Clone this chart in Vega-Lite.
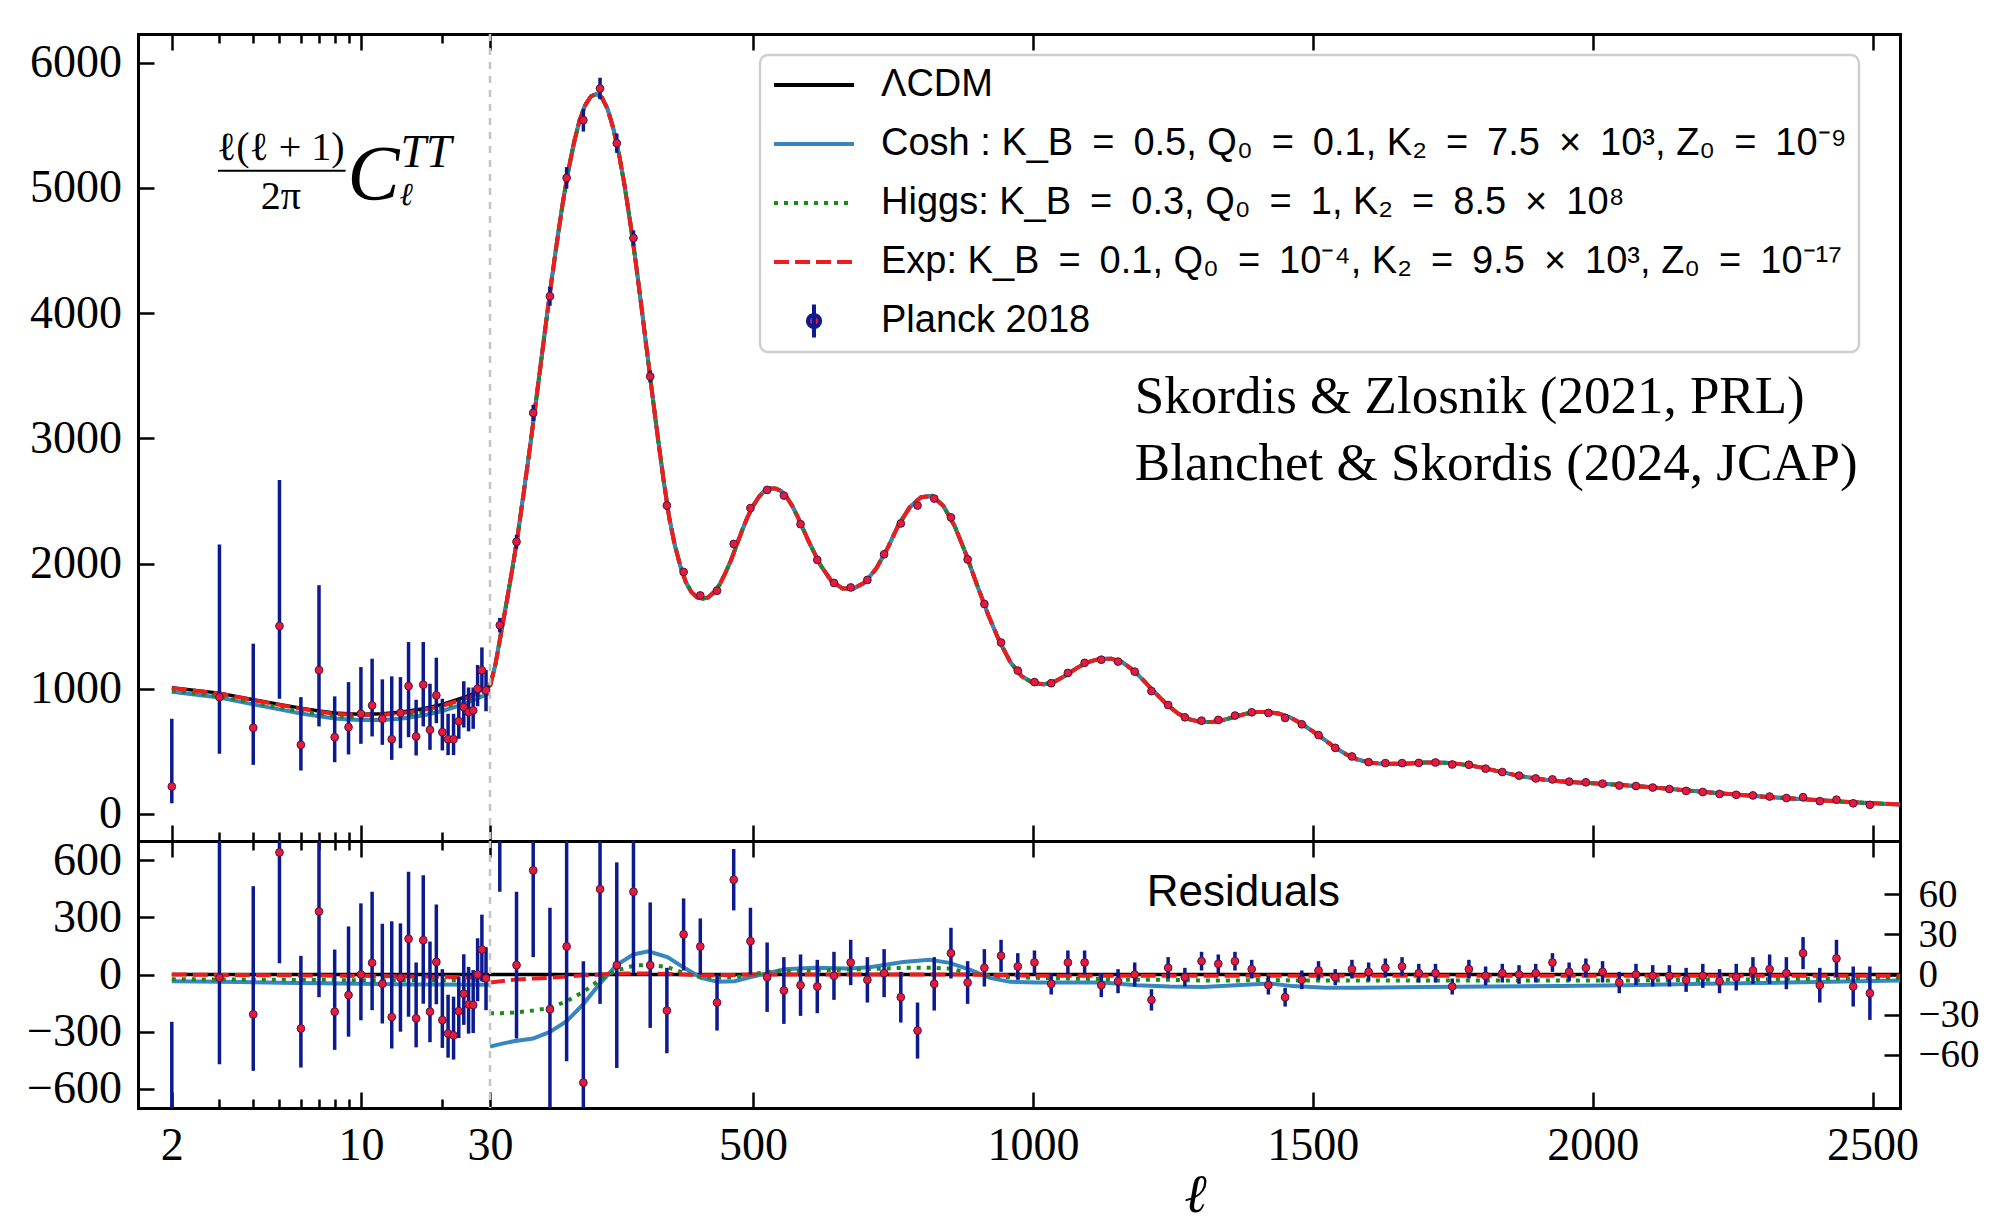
{
  "$schema": "https://vega.github.io/schema/vega-lite/v6.json",
  "background": "white",
  "padding": {"left": 26, "top": 32, "right": 5, "bottom": 5},
  "bounds": "flush",
  "spacing": 0,
  "columns": 2,
  "config": {
    "view": {"stroke": null},
    "axis": {"domainColor": "#000000", "domainWidth": 3, "tickColor": "#000000", "tickWidth": 2.5, "labelFont": "Liberation Serif", "labelFontSize": 46, "labelColor": "#000000", "grid": false, "labelFlush": false, "labelOverlap": false, "labelBound": false, "domainCap": "square"}
  },
  "resolve": {"scale": {"color": "independent"}, "legend": {"color": "independent"}},
  "datasets": {
    "loTheory": [
      {"l": 2, "LCDM": 1008, "Cosh": 975, "Higgs": 985, "Exp": 1005},
      {"l": 3, "LCDM": 965, "Cosh": 930, "Higgs": 940, "Exp": 962},
      {"l": 4, "LCDM": 912, "Cosh": 875, "Higgs": 888, "Exp": 909},
      {"l": 5, "LCDM": 875, "Cosh": 835, "Higgs": 850, "Exp": 871},
      {"l": 6, "LCDM": 845, "Cosh": 803, "Higgs": 820, "Exp": 840},
      {"l": 7, "LCDM": 822, "Cosh": 780, "Higgs": 797, "Exp": 817},
      {"l": 8, "LCDM": 806, "Cosh": 763, "Higgs": 781, "Exp": 800},
      {"l": 9, "LCDM": 800, "Cosh": 755, "Higgs": 775, "Exp": 794},
      {"l": 10, "LCDM": 797, "Cosh": 750, "Higgs": 770, "Exp": 790},
      {"l": 12, "LCDM": 800, "Cosh": 750, "Higgs": 772, "Exp": 792},
      {"l": 14, "LCDM": 812, "Cosh": 760, "Higgs": 783, "Exp": 803},
      {"l": 17, "LCDM": 840, "Cosh": 787, "Higgs": 810, "Exp": 830},
      {"l": 20, "LCDM": 875, "Cosh": 822, "Higgs": 845, "Exp": 864},
      {"l": 24, "LCDM": 930, "Cosh": 877, "Higgs": 900, "Exp": 917},
      {"l": 27, "LCDM": 975, "Cosh": 922, "Higgs": 945, "Exp": 960},
      {"l": 30, "LCDM": 1020, "Cosh": 967, "Higgs": 990, "Exp": 1003}
    ],
    "loRes": [
      {"l": 2, "LCDM": 0, "Cosh": -35, "Higgs": -25, "Exp": 0},
      {"l": 3, "LCDM": 0, "Cosh": -38, "Higgs": -26, "Exp": -2},
      {"l": 5, "LCDM": 0, "Cosh": -43, "Higgs": -28, "Exp": -4},
      {"l": 10, "LCDM": 0, "Cosh": -49, "Higgs": -30, "Exp": -7},
      {"l": 15, "LCDM": 0, "Cosh": -52, "Higgs": -30, "Exp": -10},
      {"l": 20, "LCDM": 0, "Cosh": -53, "Higgs": -30, "Exp": -12},
      {"l": 25, "LCDM": 0, "Cosh": -54, "Higgs": -30, "Exp": -15},
      {"l": 30, "LCDM": 0, "Cosh": -54, "Higgs": -30, "Exp": -18}
    ],
    "loData": [
      {"l": 2, "D": 219, "Dlo": 85, "Dhi": 760, "r": -789, "rlo": -923, "rhi": -248},
      {"l": 3, "D": 933, "Dlo": 480, "Dhi": 2152, "r": -17, "rlo": -470, "rhi": 1202},
      {"l": 4, "D": 688, "Dlo": 392, "Dhi": 1360, "r": -209, "rlo": -505, "rhi": 463},
      {"l": 5, "D": 1501, "Dlo": 920, "Dhi": 2667, "r": 640, "rlo": 59, "rhi": 1806},
      {"l": 6, "D": 552, "Dlo": 347, "Dhi": 933, "r": -283, "rlo": -488, "rhi": 98},
      {"l": 7, "D": 1149, "Dlo": 699, "Dhi": 1827, "r": 331, "rlo": -119, "rhi": 1009},
      {"l": 8, "D": 613, "Dlo": 413, "Dhi": 939, "r": -195, "rlo": -395, "rhi": 131},
      {"l": 9, "D": 693, "Dlo": 475, "Dhi": 1053, "r": -108, "rlo": -326, "rhi": 252},
      {"l": 10, "D": 800, "Dlo": 560, "Dhi": 1173, "r": 0, "rlo": -240, "rhi": 373},
      {"l": 11, "D": 867, "Dlo": 619, "Dhi": 1240, "r": 61, "rlo": -187, "rhi": 434},
      {"l": 12, "D": 760, "Dlo": 552, "Dhi": 1075, "r": -49, "rlo": -257, "rhi": 266},
      {"l": 13, "D": 597, "Dlo": 432, "Dhi": 1099, "r": -223, "rlo": -388, "rhi": 279},
      {"l": 14, "D": 808, "Dlo": 525, "Dhi": 1093, "r": -17, "rlo": -300, "rhi": 268},
      {"l": 15, "D": 1021, "Dlo": 613, "Dhi": 1373, "r": 187, "rlo": -221, "rhi": 539},
      {"l": 16, "D": 619, "Dlo": 467, "Dhi": 912, "r": -230, "rlo": -382, "rhi": 63},
      {"l": 17, "D": 1032, "Dlo": 699, "Dhi": 1373, "r": 180, "rlo": -153, "rhi": 521},
      {"l": 18, "D": 672, "Dlo": 512, "Dhi": 1040, "r": -195, "rlo": -355, "rhi": 173},
      {"l": 19, "D": 947, "Dlo": 725, "Dhi": 1248, "r": 66, "rlo": -156, "rhi": 367},
      {"l": 20, "D": 653, "Dlo": 507, "Dhi": 920, "r": -239, "rlo": -385, "rhi": 28},
      {"l": 21, "D": 597, "Dlo": 470, "Dhi": 800, "r": -309, "rlo": -436, "rhi": -106},
      {"l": 22, "D": 597, "Dlo": 470, "Dhi": 800, "r": -319, "rlo": -446, "rhi": -116},
      {"l": 23, "D": 741, "Dlo": 600, "Dhi": 920, "r": -192, "rlo": -333, "rhi": -13},
      {"l": 24, "D": 853, "Dlo": 690, "Dhi": 1060, "r": -101, "rlo": -264, "rhi": 106},
      {"l": 25, "D": 813, "Dlo": 660, "Dhi": 1010, "r": -157, "rlo": -310, "rhi": 40},
      {"l": 26, "D": 827, "Dlo": 680, "Dhi": 1010, "r": -160, "rlo": -307, "rhi": 23},
      {"l": 27, "D": 1000, "Dlo": 860, "Dhi": 1190, "r": 0, "rlo": -140, "rhi": 190},
      {"l": 28, "D": 1147, "Dlo": 980, "Dhi": 1330, "r": 131, "rlo": -36, "rhi": 314},
      {"l": 29, "D": 987, "Dlo": 820, "Dhi": 1150, "r": -20, "rlo": -187, "rhi": 143}
    ],
    "hiTheory": [
      {"l": 30, "D": 1020}, {"l": 40, "D": 1200}, {"l": 50, "D": 1450}, {"l": 60, "D": 1700}, {"l": 70, "D": 1960},
      {"l": 80, "D": 2240}, {"l": 90, "D": 2560}, {"l": 100, "D": 2880}, {"l": 110, "D": 3220}, {"l": 120, "D": 3570},
      {"l": 130, "D": 3920}, {"l": 140, "D": 4260}, {"l": 150, "D": 4580}, {"l": 160, "D": 4880}, {"l": 170, "D": 5140},
      {"l": 180, "D": 5360}, {"l": 190, "D": 5540}, {"l": 200, "D": 5660}, {"l": 210, "D": 5730}, {"l": 220, "D": 5750},
      {"l": 230, "D": 5720}, {"l": 240, "D": 5630}, {"l": 250, "D": 5480}, {"l": 260, "D": 5280}, {"l": 270, "D": 5030},
      {"l": 280, "D": 4740}, {"l": 290, "D": 4420}, {"l": 300, "D": 4070}, {"l": 310, "D": 3710}, {"l": 320, "D": 3350},
      {"l": 330, "D": 3000}, {"l": 340, "D": 2670}, {"l": 350, "D": 2370}, {"l": 360, "D": 2150}, {"l": 370, "D": 1980},
      {"l": 380, "D": 1850}, {"l": 390, "D": 1770}, {"l": 400, "D": 1730}, {"l": 410, "D": 1720}, {"l": 420, "D": 1730},
      {"l": 430, "D": 1770}, {"l": 440, "D": 1830}, {"l": 450, "D": 1920}, {"l": 460, "D": 2020}, {"l": 470, "D": 2140},
      {"l": 480, "D": 2260}, {"l": 490, "D": 2370}, {"l": 500, "D": 2460}, {"l": 510, "D": 2530}, {"l": 520, "D": 2580},
      {"l": 530, "D": 2600}, {"l": 540, "D": 2600}, {"l": 550, "D": 2580}, {"l": 560, "D": 2530}, {"l": 570, "D": 2460},
      {"l": 580, "D": 2370}, {"l": 590, "D": 2270}, {"l": 600, "D": 2170}, {"l": 620, "D": 1990}, {"l": 640, "D": 1860},
      {"l": 660, "D": 1800}, {"l": 680, "D": 1800}, {"l": 700, "D": 1850}, {"l": 720, "D": 1960}, {"l": 740, "D": 2120},
      {"l": 760, "D": 2310}, {"l": 780, "D": 2450}, {"l": 800, "D": 2530}, {"l": 820, "D": 2540}, {"l": 840, "D": 2460},
      {"l": 860, "D": 2300}, {"l": 880, "D": 2080}, {"l": 900, "D": 1830}, {"l": 920, "D": 1590}, {"l": 940, "D": 1380},
      {"l": 960, "D": 1210}, {"l": 980, "D": 1100}, {"l": 1000, "D": 1045}, {"l": 1020, "D": 1035}, {"l": 1040, "D": 1060},
      {"l": 1060, "D": 1110}, {"l": 1080, "D": 1170}, {"l": 1100, "D": 1215}, {"l": 1120, "D": 1240}, {"l": 1140, "D": 1240},
      {"l": 1160, "D": 1210}, {"l": 1180, "D": 1145}, {"l": 1200, "D": 1055}, {"l": 1220, "D": 960}, {"l": 1240, "D": 870},
      {"l": 1260, "D": 800}, {"l": 1280, "D": 755}, {"l": 1300, "D": 735}, {"l": 1320, "D": 735}, {"l": 1340, "D": 750},
      {"l": 1360, "D": 775}, {"l": 1380, "D": 800}, {"l": 1400, "D": 815}, {"l": 1420, "D": 815}, {"l": 1440, "D": 800},
      {"l": 1460, "D": 770}, {"l": 1480, "D": 720}, {"l": 1500, "D": 660}, {"l": 1520, "D": 595}, {"l": 1540, "D": 530},
      {"l": 1560, "D": 475}, {"l": 1580, "D": 435}, {"l": 1600, "D": 412}, {"l": 1620, "D": 402}, {"l": 1640, "D": 400},
      {"l": 1660, "D": 400}, {"l": 1680, "D": 405}, {"l": 1700, "D": 410}, {"l": 1720, "D": 410}, {"l": 1740, "D": 408},
      {"l": 1760, "D": 400}, {"l": 1780, "D": 388}, {"l": 1800, "D": 372}, {"l": 1820, "D": 352}, {"l": 1840, "D": 332},
      {"l": 1860, "D": 312}, {"l": 1880, "D": 296}, {"l": 1900, "D": 282}, {"l": 1920, "D": 271}, {"l": 1940, "D": 262},
      {"l": 1960, "D": 255}, {"l": 1980, "D": 250}, {"l": 2000, "D": 245}, {"l": 2050, "D": 232}, {"l": 2100, "D": 215},
      {"l": 2150, "D": 195}, {"l": 2200, "D": 175}, {"l": 2250, "D": 157}, {"l": 2300, "D": 140}, {"l": 2350, "D": 125},
      {"l": 2400, "D": 111}, {"l": 2450, "D": 98}, {"l": 2500, "D": 86}, {"l": 2549, "D": 76}
    ],
    "hiRes": [
      {"l": 30, "LCDM": 0, "Cosh": -54, "Higgs": -29, "Exp": -6},
      {"l": 50, "LCDM": 0, "Cosh": -52, "Higgs": -29, "Exp": -5},
      {"l": 72, "LCDM": 0, "Cosh": -50, "Higgs": -28.5, "Exp": -4},
      {"l": 107, "LCDM": 0, "Cosh": -48, "Higgs": -27, "Exp": -3},
      {"l": 137, "LCDM": 0, "Cosh": -43, "Higgs": -25, "Exp": -2.5},
      {"l": 167, "LCDM": 0, "Cosh": -35, "Higgs": -20, "Exp": -1.5},
      {"l": 197, "LCDM": 0, "Cosh": -22, "Higgs": -13, "Exp": -0.5},
      {"l": 226, "LCDM": 0, "Cosh": -7, "Higgs": -4, "Exp": 0},
      {"l": 256, "LCDM": 0, "Cosh": 7, "Higgs": 3, "Exp": 0.5},
      {"l": 286, "LCDM": 0, "Cosh": 15, "Higgs": 6.5, "Exp": 0.8},
      {"l": 313, "LCDM": 0, "Cosh": 17.4, "Higgs": 7.4, "Exp": 0.8},
      {"l": 347, "LCDM": 0, "Cosh": 13, "Higgs": 5.5, "Exp": 0.5},
      {"l": 377, "LCDM": 0, "Cosh": 5, "Higgs": 1, "Exp": 0},
      {"l": 407, "LCDM": 0, "Cosh": -2.5, "Higgs": -2, "Exp": -0.5},
      {"l": 437, "LCDM": 0, "Cosh": -5.5, "Higgs": -2.5, "Exp": -0.5},
      {"l": 467, "LCDM": 0, "Cosh": -5, "Higgs": -2, "Exp": -0.3},
      {"l": 496, "LCDM": 0, "Cosh": -2, "Higgs": 0, "Exp": 0},
      {"l": 526, "LCDM": 0, "Cosh": 1, "Higgs": 2, "Exp": 0},
      {"l": 556, "LCDM": 0, "Cosh": 4, "Higgs": 2.5, "Exp": 0},
      {"l": 610, "LCDM": 0, "Cosh": 5, "Higgs": 3, "Exp": 0},
      {"l": 670, "LCDM": 0, "Cosh": 4.5, "Higgs": 3.7, "Exp": 0},
      {"l": 708, "LCDM": 0, "Cosh": 5.5, "Higgs": 4, "Exp": 0},
      {"l": 768, "LCDM": 0, "Cosh": 9.4, "Higgs": 5, "Exp": 0},
      {"l": 815, "LCDM": 0, "Cosh": 11, "Higgs": 5, "Exp": 0},
      {"l": 851, "LCDM": 0, "Cosh": 8.7, "Higgs": 4.5, "Exp": 0},
      {"l": 887, "LCDM": 0, "Cosh": 3.7, "Higgs": 1, "Exp": 0},
      {"l": 923, "LCDM": 0, "Cosh": -2.5, "Higgs": -1, "Exp": -0.5},
      {"l": 959, "LCDM": 0, "Cosh": -5.5, "Higgs": -2, "Exp": -0.5},
      {"l": 1006, "LCDM": 0, "Cosh": -6, "Higgs": -2.5, "Exp": -1},
      {"l": 1066, "LCDM": 0, "Cosh": -6, "Higgs": -3, "Exp": -1},
      {"l": 1125, "LCDM": 0, "Cosh": -6, "Higgs": -3.5, "Exp": -1},
      {"l": 1185, "LCDM": 0, "Cosh": -8, "Higgs": -4, "Exp": -1},
      {"l": 1244, "LCDM": 0, "Cosh": -9, "Higgs": -4, "Exp": -1},
      {"l": 1304, "LCDM": 0, "Cosh": -9.4, "Higgs": -4.5, "Exp": -1},
      {"l": 1363, "LCDM": 0, "Cosh": -8, "Higgs": -4.5, "Exp": -1},
      {"l": 1423, "LCDM": 0, "Cosh": -6.7, "Higgs": -4, "Exp": -1},
      {"l": 1464, "LCDM": 0, "Cosh": -8.7, "Higgs": -4.5, "Exp": -1},
      {"l": 1523, "LCDM": 0, "Cosh": -10, "Higgs": -4.5, "Exp": -1},
      {"l": 1583, "LCDM": 0, "Cosh": -10, "Higgs": -4.5, "Exp": -1},
      {"l": 1702, "LCDM": 0, "Cosh": -9.4, "Higgs": -4.5, "Exp": -1},
      {"l": 1821, "LCDM": 0, "Cosh": -9, "Higgs": -4.5, "Exp": -1},
      {"l": 1940, "LCDM": 0, "Cosh": -8.7, "Higgs": -4.5, "Exp": -1},
      {"l": 2059, "LCDM": 0, "Cosh": -8, "Higgs": -4.5, "Exp": -1},
      {"l": 2200, "LCDM": 0, "Cosh": -7, "Higgs": -4, "Exp": -1},
      {"l": 2350, "LCDM": 0, "Cosh": -6, "Higgs": -3.5, "Exp": -1},
      {"l": 2549, "LCDM": 0, "Cosh": -4.5, "Higgs": -2.5, "Exp": -1}
    ],
    "hiData": [
      {"l": 47.5, "D": 1508, "r": 120, "s": 58}, {"l": 77.4, "D": 2174, "r": 7, "s": 55},
      {"l": 107.2, "D": 3203, "r": 78, "s": 65}, {"l": 137.1, "D": 4135, "r": -26, "s": 76},
      {"l": 166.9, "D": 5080, "r": 21, "s": 86}, {"l": 196.8, "D": 5541, "r": -81, "s": 91},
      {"l": 226.6, "D": 5794, "r": 64, "s": 86}, {"l": 256.5, "D": 5357, "r": 7, "s": 77},
      {"l": 286.3, "D": 4600, "r": 62, "s": 61}, {"l": 316.2, "D": 3494, "r": 7, "s": 47},
      {"l": 346, "D": 2463, "r": -27, "s": 32}, {"l": 375.9, "D": 1933, "r": 30, "s": 27},
      {"l": 405.7, "D": 1745, "r": 21, "s": 21}, {"l": 435.6, "D": 1783, "r": -21, "s": 21},
      {"l": 465.4, "D": 2156, "r": 71, "s": 23}, {"l": 495.3, "D": 2443, "r": 25, "s": 25},
      {"l": 525.1, "D": 2588, "r": -2, "s": 26}, {"l": 555, "D": 2543, "r": -12, "s": 25},
      {"l": 584.8, "D": 2314, "r": -8, "s": 23}, {"l": 614.7, "D": 2029, "r": -9, "s": 20},
      {"l": 644.5, "D": 1845, "r": -1, "s": 18}, {"l": 674.4, "D": 1809, "r": 9, "s": 17},
      {"l": 704.2, "D": 1869, "r": -4, "s": 17}, {"l": 734.1, "D": 2074, "r": 1, "s": 18},
      {"l": 763.9, "D": 2320, "r": -17, "s": 19}, {"l": 793.8, "D": 2463, "r": -42, "s": 21},
      {"l": 823.6, "D": 2519, "r": -7, "s": 20}, {"l": 853.5, "D": 2368, "r": 16, "s": 19},
      {"l": 883.3, "D": 2033, "r": -6, "s": 16}, {"l": 913.2, "D": 1677, "r": 5, "s": 14},
      {"l": 943, "D": 1369, "r": 14, "s": 12}, {"l": 972.9, "D": 1145, "r": 6, "s": 10},
      {"l": 1002.7, "D": 1053, "r": 9, "s": 9}, {"l": 1032.6, "D": 1044, "r": -7, "s": 8},
      {"l": 1062.4, "D": 1126, "r": 9, "s": 9}, {"l": 1092.3, "D": 1207, "r": 9, "s": 9},
      {"l": 1122.1, "D": 1232, "r": -8, "s": 9}, {"l": 1152, "D": 1217, "r": -5, "s": 9},
      {"l": 1181.8, "D": 1137, "r": 0, "s": 9}, {"l": 1211.7, "D": 981, "r": -19, "s": 8},
      {"l": 1241.5, "D": 870, "r": 5, "s": 8}, {"l": 1271.4, "D": 772, "r": -2, "s": 7},
      {"l": 1301.2, "D": 745, "r": 10, "s": 7}, {"l": 1331.1, "D": 751, "r": 8, "s": 7},
      {"l": 1360.9, "D": 786, "r": 10, "s": 7}, {"l": 1390.8, "D": 812, "r": 4, "s": 7},
      {"l": 1420.6, "D": 807, "r": -8, "s": 7}, {"l": 1450.5, "D": 767, "r": -17, "s": 7},
      {"l": 1480.3, "D": 716, "r": -4, "s": 7}, {"l": 1510.2, "D": 630, "r": 3, "s": 7},
      {"l": 1540, "D": 528, "r": -2, "s": 6}, {"l": 1569.9, "D": 459, "r": 4, "s": 7},
      {"l": 1599.7, "D": 414, "r": 2, "s": 7}, {"l": 1629.6, "D": 406, "r": 5, "s": 7},
      {"l": 1659.4, "D": 406, "r": 6, "s": 7}, {"l": 1689.3, "D": 408, "r": 1, "s": 7},
      {"l": 1719.1, "D": 411, "r": 1, "s": 7}, {"l": 1749, "D": 395, "r": -9, "s": 6},
      {"l": 1778.8, "D": 393, "r": 4, "s": 7}, {"l": 1808.7, "D": 362, "r": -1, "s": 7},
      {"l": 1838.5, "D": 335, "r": 1, "s": 7}, {"l": 1868.4, "D": 306, "r": 0, "s": 7},
      {"l": 1898.2, "D": 284, "r": 1, "s": 7}, {"l": 1928.1, "D": 276, "r": 9, "s": 7},
      {"l": 1957.9, "D": 258, "r": 2, "s": 7}, {"l": 1987.8, "D": 253, "r": 5, "s": 7},
      {"l": 2017.6, "D": 242, "r": 2, "s": 8}, {"l": 2047.5, "D": 227, "r": -6, "s": 8},
      {"l": 2077.3, "D": 223, "r": 0, "s": 8}, {"l": 2107.2, "D": 211, "r": -1, "s": 8},
      {"l": 2137, "D": 199, "r": -1, "s": 8}, {"l": 2166.9, "D": 184, "r": -4, "s": 9},
      {"l": 2196.7, "D": 175, "r": -1, "s": 9}, {"l": 2226.6, "D": 160, "r": -5, "s": 9},
      {"l": 2256.4, "D": 153, "r": -2, "s": 10}, {"l": 2286.3, "D": 148, "r": 3, "s": 10},
      {"l": 2316.1, "D": 139, "r": 4, "s": 11}, {"l": 2346, "D": 127, "r": 1, "s": 12},
      {"l": 2375.8, "D": 134, "r": 16, "s": 12}, {"l": 2405.7, "D": 102, "r": -8, "s": 13},
      {"l": 2435.5, "D": 114, "r": 12, "s": 14}, {"l": 2465.4, "D": 85, "r": -9, "s": 15},
      {"l": 2495.2, "D": 73, "r": -14, "s": 20}
    ]
  },
  "concat": [
    {
      "width": 352, "height": 807,
      "resolve": {"axis": {"x": "independent", "y": "independent"}},
      "layer": [
        {"data": {"name": "loTheory"}, "mark": {"type": "line", "color": "#000000", "strokeWidth": 3.5},
         "encoding": {
           "x": {"field": "l", "type": "quantitative", "scale": {"type": "log", "domain": [1.5, 30], "nice": false},
                 "axis": {"orient": "bottom", "title": null, "values": [2,3,4,5,6,7,8,9,10,20,30], "labels": false,
                          "tickSize": {"condition": {"test": "datum.value == 2 || datum.value == 10 || datum.value == 30", "value": -16}, "value": -9}}},
           "y": {"field": "LCDM", "type": "quantitative", "scale": {"domain": [-216, 6229], "nice": false, "zero": false},
                 "axis": {"orient": "left", "title": null, "values": [0,1000,2000,3000,4000,5000,6000], "format": "d", "tickSize": -16, "labelPadding": 32.5}}}},
        {"data": {"name": "loTheory"}, "mark": {"type": "line", "color": "#3886c0", "strokeWidth": 4},
         "encoding": {
           "x": {"field": "l", "type": "quantitative", "scale": {"type": "log", "domain": [1.5, 30], "nice": false},
                 "axis": {"orient": "top", "title": null, "values": [2,3,4,5,6,7,8,9,10,20,30], "labels": false,
                          "tickSize": {"condition": {"test": "datum.value == 2 || datum.value == 10 || datum.value == 30", "value": -16}, "value": -9}}},
           "y": {"field": "Cosh", "type": "quantitative", "axis": null}}},
        {"data": {"name": "loTheory"}, "mark": {"type": "line", "color": "#1a8a1a", "strokeWidth": 4, "strokeDash": [4, 6]},
         "encoding": {"x": {"field": "l", "type": "quantitative", "axis": null}, "y": {"field": "Higgs", "type": "quantitative", "axis": null}}},
        {"data": {"name": "loTheory"}, "mark": {"type": "line", "color": "#ee1c1c", "strokeWidth": 4, "strokeDash": [15, 6]},
         "encoding": {"x": {"field": "l", "type": "quantitative", "axis": null}, "y": {"field": "Exp", "type": "quantitative", "axis": null}}},
        {"data": {"name": "loData"}, "mark": {"type": "rule", "color": "#0b1a8f", "strokeWidth": 3.5, "clip": true},
         "encoding": {"x": {"field": "l", "type": "quantitative", "axis": null}, "y": {"field": "Dlo", "type": "quantitative", "axis": null}, "y2": {"field": "Dhi"}}},
        {"data": {"name": "loData"}, "mark": {"type": "circle", "color": "#e31b3d", "stroke": "#5c0f3c", "strokeWidth": 1, "size": 60, "opacity": 1, "clip": true},
         "encoding": {"x": {"field": "l", "type": "quantitative", "axis": null}, "y": {"field": "D", "type": "quantitative", "axis": null}}},
        {"data": {"values": [{}]}, "mark": {"type": "text", "text": "ℓ(ℓ + 1)", "font": "Liberation Serif", "fontSize": 40, "align": "center", "baseline": "middle", "color": "#000000"},
         "encoding": {"x": {"datum": 5.06, "type": "quantitative", "axis": null}, "y": {"datum": 5321, "type": "quantitative", "axis": null}}},
        {"data": {"values": [{}]}, "mark": {"type": "rule", "color": "#000000", "strokeWidth": 2},
         "encoding": {"x": {"datum": 2.96, "type": "quantitative", "axis": null}, "x2": {"datum": 8.78}, "y": {"datum": 5137, "type": "quantitative", "axis": null}}},
        {"data": {"values": [{}]}, "mark": {"type": "text", "text": "2π", "font": "Liberation Serif", "fontSize": 40, "align": "center", "baseline": "middle", "color": "#000000"},
         "encoding": {"x": {"datum": 5.06, "type": "quantitative", "axis": null}, "y": {"datum": 4929, "type": "quantitative", "axis": null}}},
        {"data": {"values": [{}]}, "mark": {"type": "text", "text": "C", "font": "Liberation Serif", "fontStyle": "italic", "fontSize": 78, "align": "left", "baseline": "alphabetic", "color": "#000000"},
         "encoding": {"x": {"datum": 8.93, "type": "quantitative", "axis": null}, "y": {"datum": 4913, "type": "quantitative", "axis": null}}},
        {"data": {"values": [{}]}, "mark": {"type": "text", "text": "TT", "font": "Liberation Serif", "fontStyle": "italic", "fontSize": 46, "align": "left", "baseline": "alphabetic", "color": "#000000"},
         "encoding": {"x": {"datum": 14.0, "type": "quantitative", "axis": null}, "y": {"datum": 5169, "type": "quantitative", "axis": null}}},
        {"data": {"values": [{}]}, "mark": {"type": "text", "text": "ℓ", "font": "Liberation Serif", "fontStyle": "italic", "fontSize": 32, "align": "left", "baseline": "alphabetic", "color": "#000000"},
         "encoding": {"x": {"datum": 13.9, "type": "quantitative", "axis": null}, "y": {"datum": 4861, "type": "quantitative", "axis": null}}}
      ]
    },
    {
      "width": 1410, "height": 807,
      "resolve": {"axis": {"x": "independent", "y": "independent"}},
      "layer": [
        {"data": {"name": "hiTheory"}, "mark": {"type": "line", "strokeWidth": 3.5},
         "encoding": {
           "x": {"field": "l", "type": "quantitative", "scale": {"domain": [30, 2549], "nice": false, "zero": false},
                 "axis": {"orient": "bottom", "title": null, "values": [500,1000,1500,2000,2500], "labels": false, "tickSize": -16}},
           "y": {"field": "D", "type": "quantitative", "scale": {"domain": [-216, 6229], "nice": false, "zero": false},
                 "axis": {"orient": "right", "title": null, "ticks": false, "labels": false}},
           "color": {"datum": "LCDM", "type": "nominal",
                     "scale": {"domain": ["LCDM", "Cosh", "Higgs", "Exp", "Planck"], "range": ["#000000", "#3886c0", "#1a8a1a", "#ee1c1c", "#0b1a8f"]},
                     "legend": {
                       "orient": "none", "legendX": 270, "legendY": 21, "title": null,
                       "padding": 12, "cornerRadius": 8, "strokeColor": "#cfcfcf", "fillColor": "#ffffff",
                       "labelFont": "Liberation Sans", "labelFontSize": 38, "labelColor": "#000000", "labelLimit": 1400,
                       "symbolSize": 6400, "symbolStrokeWidth": 4, "symbolType": "stroke", "symbolOpacity": 1,
                       "clipHeight": 36, "rowPadding": 21, "labelOffset": 25,
                       "labelExpr": "datum.value === 'LCDM' ? 'ΛCDM' : datum.value === 'Cosh' ? 'Cosh : K_B\u2002=\u20020.5, Q₀\u2002=\u20020.1, K₂\u2002=\u20027.5\u2002×\u200210³, Z₀\u2002=\u200210⁻⁹' : datum.value === 'Higgs' ? 'Higgs: K_B\u2002=\u20020.3, Q₀\u2002=\u20021, K₂\u2002=\u20028.5\u2002×\u200210⁸' : datum.value === 'Exp' ? 'Exp: K_B\u2002=\u20020.1, Q₀\u2002=\u200210⁻⁴, K₂\u2002=\u20029.5\u2002×\u200210³, Z₀\u2002=\u200210⁻¹⁷' : 'Planck 2018'",
                       "encode": {
                         "symbols": {"update": {
                           "shape": {"signal": "datum.value === 'Planck' ? 'M0,-0.41V0.41M0.15,0A0.15,0.15,0,1,1,-0.15,0A0.15,0.15,0,1,1,0.15,0Z' : 'M-1,0H1'"},
                           "size": {"value": 6400},
                           "strokeDash": {"signal": "datum.value === 'Higgs' ? [4,6] : (datum.value === 'Exp' ? [15,6] : [1,0])"},
                           "fill": {"signal": "datum.value === 'Planck' ? '#e31b3d' : 'transparent'"},
                           "strokeWidth": {"value": 4}
                         }},
                         "legend": {"update": {"strokeWidth": {"value": 2.5}}}
                       }
                     }}}},
        {"data": {"name": "hiTheory"}, "mark": {"type": "line", "strokeWidth": 4},
         "encoding": {
           "x": {"field": "l", "type": "quantitative", "scale": {"domain": [30, 2549], "nice": false, "zero": false},
                 "axis": {"orient": "top", "title": null, "values": [500,1000,1500,2000,2500], "labels": false, "tickSize": -16}},
           "y": {"field": "D", "type": "quantitative", "axis": null},
           "color": {"datum": "Cosh", "type": "nominal"}}},
        {"data": {"name": "hiTheory"}, "mark": {"type": "line", "strokeWidth": 4, "strokeDash": [4, 6]},
         "encoding": {"x": {"field": "l", "type": "quantitative", "axis": null}, "y": {"field": "D", "type": "quantitative", "axis": null}, "color": {"datum": "Higgs", "type": "nominal"}}},
        {"data": {"name": "hiTheory"}, "mark": {"type": "line", "strokeWidth": 4, "strokeDash": [15, 6]},
         "encoding": {"x": {"field": "l", "type": "quantitative", "axis": null}, "y": {"field": "D", "type": "quantitative", "axis": null}, "color": {"datum": "Exp", "type": "nominal"}}},
        {"data": {"values": [{}]}, "mark": {"type": "rule", "color": "#c4c4c4", "strokeWidth": 2.5, "strokeDash": [7, 7]},
         "encoding": {"x": {"datum": 30, "type": "quantitative", "axis": null}}},
        {"data": {"name": "hiData"}, "mark": {"type": "errorbar", "thickness": 3.5, "clip": true},
         "encoding": {"x": {"field": "l", "type": "quantitative", "axis": null}, "y": {"field": "D", "type": "quantitative", "axis": null}, "yError": {"field": "s"}, "color": {"datum": "Planck", "type": "nominal"}}},
        {"data": {"name": "hiData"}, "mark": {"type": "circle", "color": "#e31b3d", "stroke": "#5c0f3c", "strokeWidth": 1, "size": 60, "opacity": 1, "clip": true},
         "encoding": {"x": {"field": "l", "type": "quantitative", "axis": null}, "y": {"field": "D", "type": "quantitative", "axis": null}}},
        {"data": {"values": [{}]}, "mark": {"type": "text", "text": "Skordis & Zlosnik (2021, PRL)", "font": "Liberation Serif", "fontSize": 53, "align": "left", "baseline": "middle", "color": "#000000"},
         "encoding": {"x": {"datum": 1182, "type": "quantitative", "axis": null}, "y": {"datum": 3331, "type": "quantitative", "axis": null}}},
        {"data": {"values": [{}]}, "mark": {"type": "text", "text": "Blanchet & Skordis (2024, JCAP)", "font": "Liberation Serif", "fontSize": 53, "align": "left", "baseline": "middle", "color": "#000000"},
         "encoding": {"x": {"datum": 1182, "type": "quantitative", "axis": null}, "y": {"datum": 2796, "type": "quantitative", "axis": null}}}
      ]
    },
    {
      "width": 352, "height": 267,
      "resolve": {"axis": {"x": "independent", "y": "independent"}},
      "layer": [
        {"data": {"name": "loRes"}, "mark": {"type": "line", "color": "#000000", "strokeWidth": 3.5},
         "encoding": {
           "x": {"field": "l", "type": "quantitative", "scale": {"type": "log", "domain": [1.5, 30], "nice": false},
                 "axis": {"orient": "bottom", "title": null, "values": [2,3,4,5,6,7,8,9,10,20,30], "labelPadding": 31,
                          "labelExpr": "datum.value == 2 || datum.value == 10 || datum.value == 30 ? '' + datum.value : ''",
                          "tickSize": {"condition": {"test": "datum.value == 2 || datum.value == 10 || datum.value == 30", "value": -16}, "value": -9}}},
           "y": {"field": "LCDM", "type": "quantitative", "scale": {"domain": [-700, 700], "nice": false, "zero": false},
                 "axis": {"orient": "left", "title": null, "values": [-600,-300,0,300,600], "format": "d", "tickSize": -16, "labelPadding": 32.5}}}},
        {"data": {"name": "loRes"}, "mark": {"type": "line", "color": "#3886c0", "strokeWidth": 4},
         "encoding": {
           "x": {"field": "l", "type": "quantitative", "scale": {"type": "log", "domain": [1.5, 30], "nice": false},
                 "axis": {"orient": "top", "title": null, "values": [2,3,4,5,6,7,8,9,10,20,30], "labels": false,
                          "tickSize": {"condition": {"test": "datum.value == 2 || datum.value == 10 || datum.value == 30", "value": -16}, "value": -9}}},
           "y": {"field": "Cosh", "type": "quantitative", "axis": null}}},
        {"data": {"name": "loRes"}, "mark": {"type": "line", "color": "#1a8a1a", "strokeWidth": 4, "strokeDash": [4, 6]},
         "encoding": {"x": {"field": "l", "type": "quantitative", "axis": null}, "y": {"field": "Higgs", "type": "quantitative", "axis": null}}},
        {"data": {"name": "loRes"}, "mark": {"type": "line", "color": "#ee1c1c", "strokeWidth": 4, "strokeDash": [15, 6]},
         "encoding": {"x": {"field": "l", "type": "quantitative", "axis": null}, "y": {"field": "Exp", "type": "quantitative", "axis": null}}},
        {"data": {"name": "loData"}, "mark": {"type": "rule", "color": "#0b1a8f", "strokeWidth": 3.5, "clip": true},
         "encoding": {"x": {"field": "l", "type": "quantitative", "axis": null}, "y": {"field": "rlo", "type": "quantitative", "axis": null}, "y2": {"field": "rhi"}}},
        {"data": {"name": "loData"}, "mark": {"type": "circle", "color": "#e31b3d", "stroke": "#5c0f3c", "strokeWidth": 1, "size": 60, "opacity": 1, "clip": true},
         "encoding": {"x": {"field": "l", "type": "quantitative", "axis": null}, "y": {"field": "r", "type": "quantitative", "axis": null}}}
      ]
    },
    {
      "width": 1410, "height": 267,
      "resolve": {"axis": {"x": "independent", "y": "independent"}},
      "layer": [
        {"data": {"name": "hiRes"}, "mark": {"type": "line", "color": "#000000", "strokeWidth": 3.5},
         "encoding": {
           "x": {"field": "l", "type": "quantitative", "scale": {"domain": [30, 2549], "nice": false, "zero": false},
                 "axis": {"orient": "bottom", "values": [500,1000,1500,2000,2500], "format": "d", "tickSize": -16, "labelPadding": 31,
                          "title": "ℓ", "titleFont": "Liberation Serif", "titleFontStyle": "italic", "titleFontWeight": "normal", "titleFontSize": 54, "titlePadding": 0, "titleColor": "#000000"}},
           "y": {"field": "LCDM", "type": "quantitative", "scale": {"domain": [-100, 100], "nice": false, "zero": false},
                 "axis": {"orient": "right", "title": null, "values": [-60,-30,0,30,60], "format": "d", "tickSize": -16, "labelPadding": 34, "labelFontSize": 39}}}},
        {"data": {"name": "hiRes"}, "mark": {"type": "line", "color": "#3886c0", "strokeWidth": 4},
         "encoding": {
           "x": {"field": "l", "type": "quantitative", "scale": {"domain": [30, 2549], "nice": false, "zero": false},
                 "axis": {"orient": "top", "title": null, "values": [500,1000,1500,2000,2500], "labels": false, "tickSize": -16}},
           "y": {"field": "Cosh", "type": "quantitative", "axis": null}}},
        {"data": {"name": "hiRes"}, "mark": {"type": "line", "color": "#1a8a1a", "strokeWidth": 4, "strokeDash": [4, 6]},
         "encoding": {"x": {"field": "l", "type": "quantitative", "axis": null}, "y": {"field": "Higgs", "type": "quantitative", "axis": null}}},
        {"data": {"name": "hiRes"}, "mark": {"type": "line", "color": "#ee1c1c", "strokeWidth": 4, "strokeDash": [15, 6]},
         "encoding": {"x": {"field": "l", "type": "quantitative", "axis": null}, "y": {"field": "Exp", "type": "quantitative", "axis": null}}},
        {"data": {"values": [{}]}, "mark": {"type": "rule", "color": "#c4c4c4", "strokeWidth": 2.5, "strokeDash": [7, 7]},
         "encoding": {"x": {"datum": 30, "type": "quantitative", "axis": null}}},
        {"data": {"name": "hiData"}, "mark": {"type": "errorbar", "thickness": 3.5, "color": "#0b1a8f", "clip": true},
         "encoding": {"x": {"field": "l", "type": "quantitative", "axis": null}, "y": {"field": "r", "type": "quantitative", "axis": null}, "yError": {"field": "s"}}},
        {"data": {"name": "hiData"}, "mark": {"type": "circle", "color": "#e31b3d", "stroke": "#5c0f3c", "strokeWidth": 1, "size": 60, "opacity": 1, "clip": true},
         "encoding": {"x": {"field": "l", "type": "quantitative", "axis": null}, "y": {"field": "r", "type": "quantitative", "axis": null}}},
        {"data": {"values": [{}]}, "mark": {"type": "text", "text": "Residuals", "font": "Liberation Sans", "fontSize": 44, "align": "center", "baseline": "middle", "color": "#000000"},
         "encoding": {"x": {"datum": 1376, "type": "quantitative", "axis": null}, "y": {"datum": 61, "type": "quantitative", "axis": null}}}
      ]
    }
  ]
}
